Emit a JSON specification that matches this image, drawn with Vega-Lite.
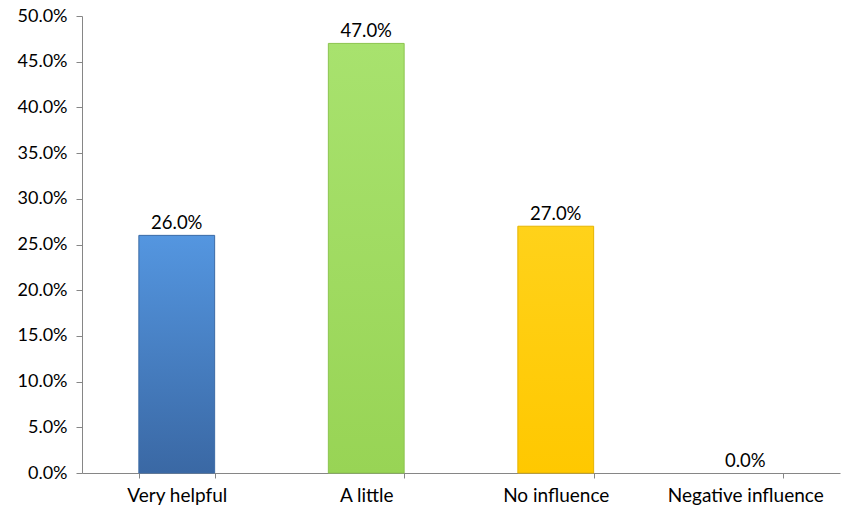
{
  "$schema": "https://vega.github.io/schema/vega-lite/v6.json",
  "width": 758,
  "height": 457,
  "autosize": {"type": "none"},
  "padding": {"left": 82, "top": 16, "right": 15, "bottom": 45},
  "background": "white",
  "config": {"view": {"stroke": null}, "font": "Lato"},
  "data": {"values": [
    {"cat": "Very helpful", "v": 0.26},
    {"cat": "A little", "v": 0.47},
    {"cat": "No influence", "v": 0.27},
    {"cat": "Negative influence", "v": 0.0}
  ]},
  "encoding": {
    "x": {"field": "cat", "type": "nominal", "sort": null,
      "scale": {"paddingInner": 0.6, "paddingOuter": 0.3},
      "axis": {"title": null, "labelAngle": 0, "labelFontSize": 19, "labelColor": "#000", "labelPadding": 8,
        "domainColor": "#868686", "tickColor": "#868686", "tickSize": 5, "tickBand": "extent"}},
    "y": {"field": "v", "type": "quantitative",
      "scale": {"domain": [0, 0.5], "nice": false},
      "axis": {"title": null, "format": ".1%", "values": [0,0.05,0.1,0.15,0.2,0.25,0.3,0.35,0.4,0.45,0.5], "grid": false,
        "labelOverlap": false, "labelFontSize": 18, "labelColor": "#000", "labelPadding": 9,
        "domainColor": "#868686", "tickColor": "#868686", "tickSize": 6}}
  },
  "layer": [
    {"mark": {"type": "bar", "strokeWidth": 1},
      "encoding": {
        "fill": {"condition": [
          {"test": "datum.cat === 'Very helpful'", "value": {"gradient": "linear", "x1": 0, "y1": 0, "x2": 0, "y2": 1, "stops": [{"offset": 0, "color": "#5496e0"}, {"offset": 1, "color": "#3a68a4"}]}},
          {"test": "datum.cat === 'A little'", "value": {"gradient": "linear", "x1": 0, "y1": 0, "x2": 0, "y2": 1, "stops": [{"offset": 0, "color": "#a8e26e"}, {"offset": 1, "color": "#98d455"}]}},
          {"test": "datum.cat === 'No influence'", "value": {"gradient": "linear", "x1": 0, "y1": 0, "x2": 0, "y2": 1, "stops": [{"offset": 0, "color": "#ffd21a"}, {"offset": 1, "color": "#ffc800"}]}}
        ], "value": "#cccccc"},
        "stroke": {"condition": [
          {"test": "datum.cat === 'Very helpful'", "value": "#3c6ba6"},
          {"test": "datum.cat === 'A little'", "value": "#8cc44e"},
          {"test": "datum.cat === 'No influence'", "value": "#e6b400"}
        ], "value": null}
      }},
    {"mark": {"type": "text", "dy": -12, "fontSize": 18.5, "color": "#000"},
      "encoding": {"text": {"field": "v", "type": "quantitative", "format": ".1%"}}}
  ]
}
